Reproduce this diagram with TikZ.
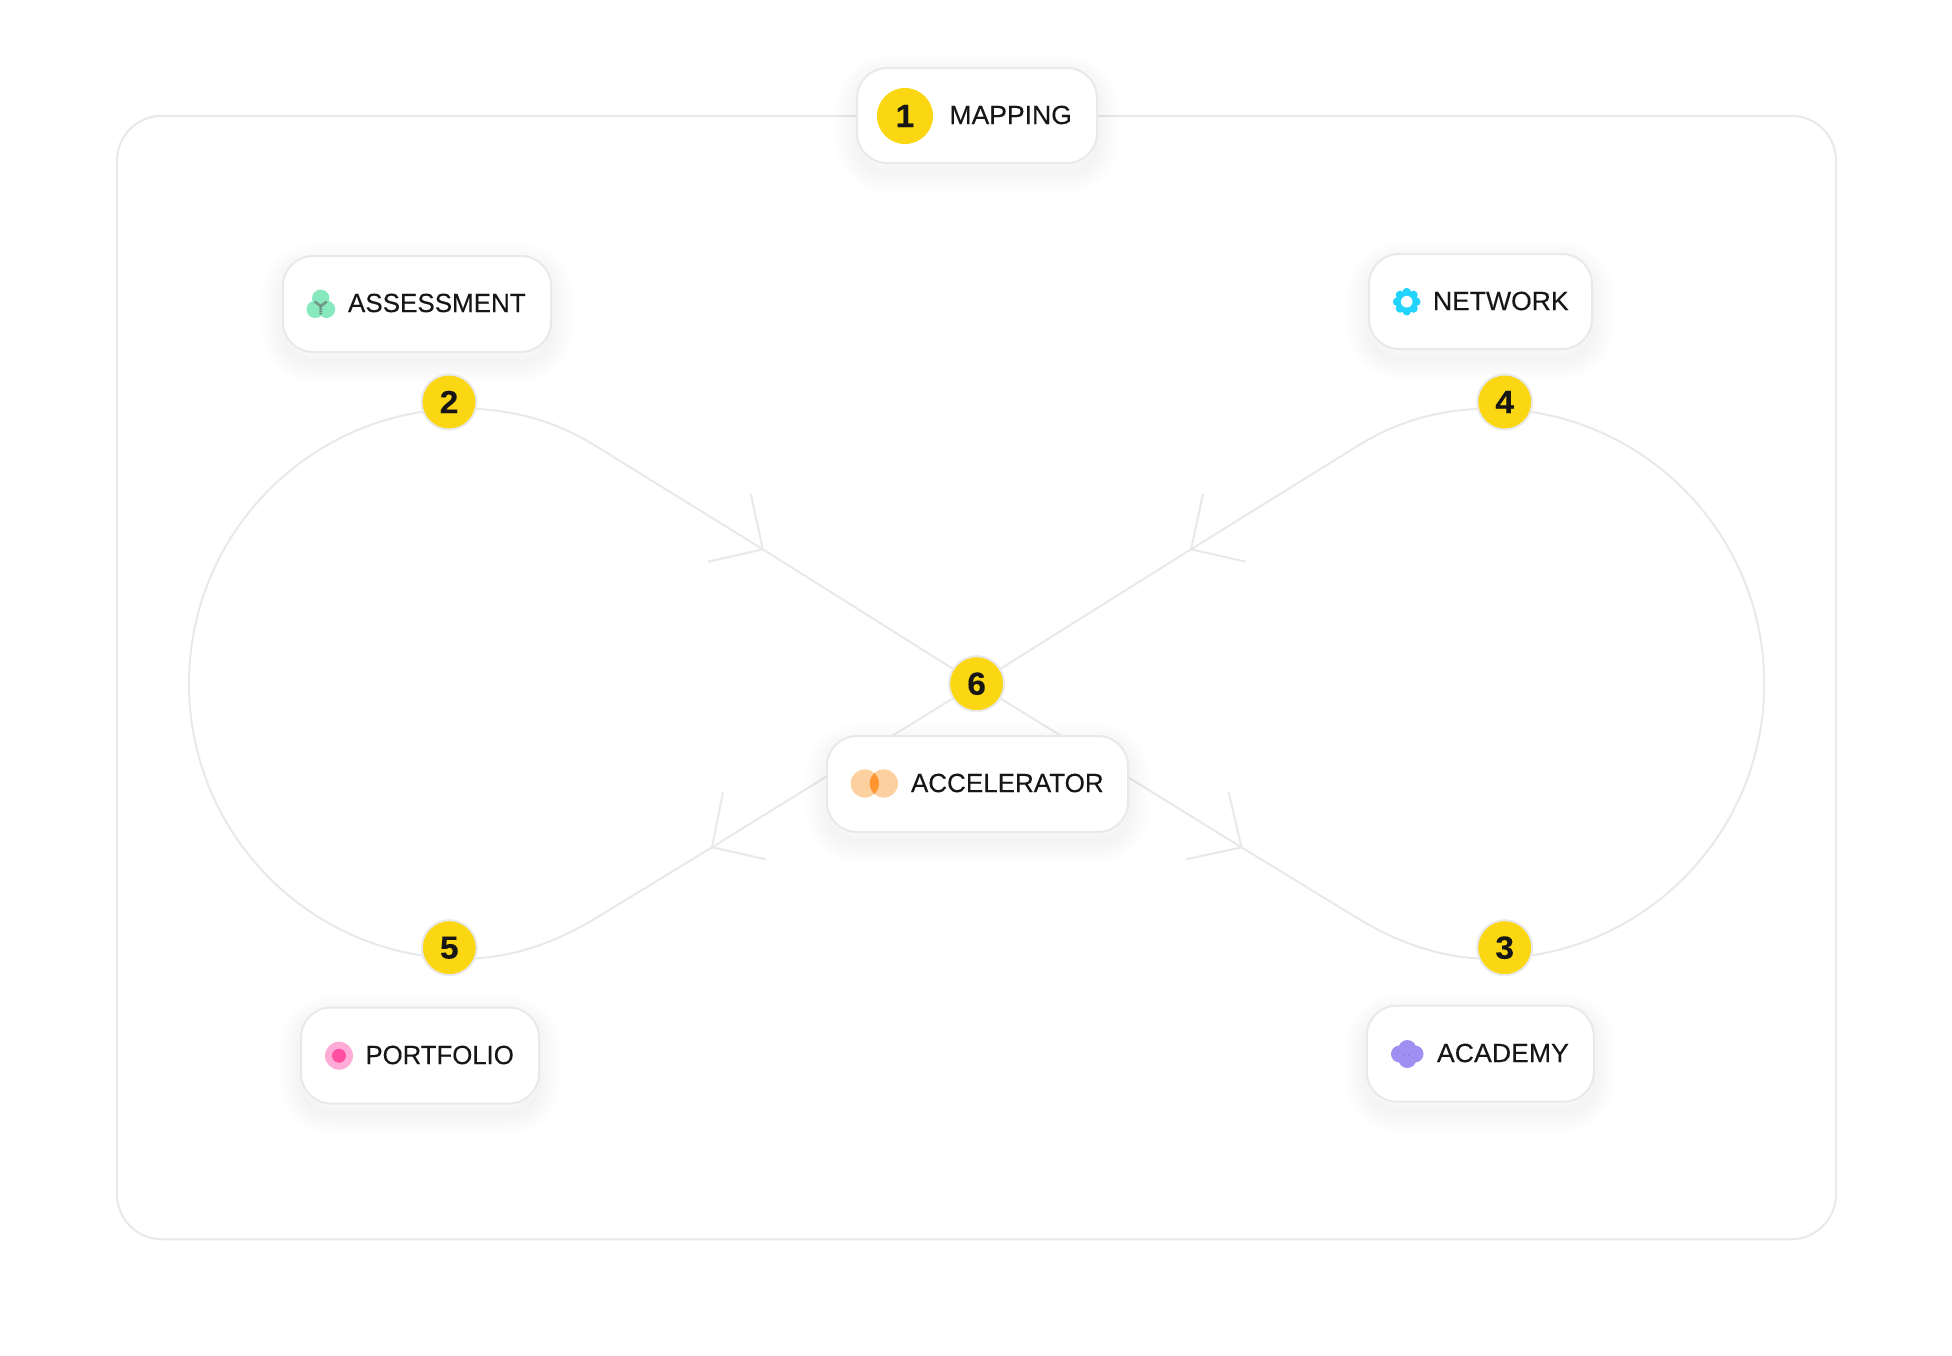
\documentclass[tikz,border=0pt]{standalone}
\usepackage{fontspec}
\setmainfont[FakeBold=0.18]{Liberation Sans}
\newfontfamily\digitfont[BoldFeatures={FakeStretch=1.05,FakeBold=0.2}]{Liberation Sans}
\pgfdeclarelayer{back}
\pgfsetlayers{back,main}
\definecolor{linegray}{HTML}{E9E9E9}
\definecolor{badgeyellow}{HTML}{FBD612}
\definecolor{inkblack}{HTML}{161616}
\definecolor{icongreen}{HTML}{88E8BE}
\definecolor{icongray}{HTML}{6A877C}
\definecolor{iconcyan}{HTML}{22D3FD}
\definecolor{iconpeach}{HTML}{FDD0A0}
\definecolor{iconorange}{HTML}{FF9530}
\definecolor{iconpinkl}{HTML}{FFABD8}
\definecolor{iconpinkd}{HTML}{FF4FA3}
\definecolor{iconviolet}{HTML}{9F8FF2}
\definecolor{icondot}{HTML}{7D6FC4}
\tikzset{
  shadowlayer/.style={preaction={draw=black,draw opacity=0.0045,line width=#1*0.75pt,transform canvas={yshift=-9*0.75pt}}},
  card/.style={shape=rectangle,rounded corners=22.5pt,fill=white,draw=linegray,line width=1.5pt,
    shadowlayer=44,shadowlayer=40,shadowlayer=36,shadowlayer=32,shadowlayer=28,shadowlayer=24,shadowlayer=20,shadowlayer=16,shadowlayer=12,shadowlayer=8,shadowlayer=4},
  cardsize/.style 2 args={minimum width=#1*0.75pt,minimum height=#2*0.75pt,inner sep=0pt,outer sep=0pt},
  cardtext/.style={anchor=west,inner sep=0pt,outer sep=0pt,text=inkblack,font=\fontsize{19.7pt}{22pt}\selectfont},
  badge/.style={shape=circle,fill=badgeyellow,draw=linegray,line width=1.5pt,minimum size=55*0.75pt,inner sep=0pt,outer sep=0pt,text=inkblack,font=\fontsize{24pt}{26pt}\digitfont\bfseries},
  link/.style={draw=linegray,line width=1.5pt,line join=miter},
  framebox/.style={shape=rectangle,rounded corners=33.75pt,draw=linegray,line width=1.5pt,inner sep=0pt,outer sep=0pt}
}
\begin{document}
\begin{tikzpicture}[x=0.75pt,y=-0.75pt]
\useasboundingbox (0,0) rectangle (1952,1356);
% path helpers: straight joins and arc ends
\coordinate (jUL) at (595,445.5);
\coordinate (jLL) at (597,917.4);
\coordinate (jUR) at (1358.2,445.5);
\coordinate (jLR) at (1356.2,917.4);
\coordinate (sUL) at (464,408.7);
\coordinate (sUR) at (1489.2,408.7);
\coordinate (aUL) at (762.8,549.3);
\coordinate (aUL1) at (750.8,494);
\coordinate (aUL2) at (708,561.7);
\coordinate (aUR) at (1191,549.3);
\coordinate (aUR1) at (1203,494);
\coordinate (aUR2) at (1245.7,561.7);
\coordinate (aLL) at (712,847.3);
\coordinate (aLL1) at (723,792.3);
\coordinate (aLL2) at (765.8,859.3);
\coordinate (aLR) at (1241.5,847.3);
\coordinate (aLR1) at (1228.7,792.3);
\coordinate (aLR2) at (1186,859.3);
% cards
\node[card,cardsize={240}{95}] (mapping) at (977,115.5) {};
\node[card,cardsize={268}{96}] (assessment) at (417,304) {};
\node[card,cardsize={223}{95}] (network) at (1480.5,301.5) {};
\node[card,cardsize={301}{96}] (accelerator) at (977.5,784) {};
\node[card,cardsize={238}{96}] (portfolio) at (420,1055.5) {};
\node[card,cardsize={227}{96}] (academy) at (1480.3,1053.7) {};
% badges
\node[badge,draw=none,minimum size=56*0.75pt] (n1) at (905,116) {1};
\node[badge] (n2) at (449,402) {2};
\node[badge] (n3) at (1504.7,947.7) {3};
\node[badge] (n4) at (1504.7,402) {4};
\node[badge] (n5) at (449.3,947.7) {5};
\node[badge] (n6) at (976.6,683.7) {6};
% labels
\node[cardtext] (lmapping) at (949.5,115) {\scalebox{1.01}[1]{MAPPING}};
\node[cardtext] (lassessment) at (348,303) {\scalebox{0.99}[1]{ASSESSMENT}};
\node[cardtext] (lnetwork) at (1433,301) {\scalebox{1.01}[1]{NETWORK}};
\node[cardtext] (laccelerator) at (911,783) {\scalebox{0.99}[1]{ACCELERATOR}};
\node[cardtext] (lportfolio) at (365.5,1055) {\scalebox{0.98}[1]{PORTFOLIO}};
\node[cardtext] (lacademy) at (1437,1053) {\scalebox{1.015}[1]{ACADEMY}};
% icon assessment
\fill[icongreen] (320.7,298.3) circle (8.7);
\fill[icongreen] (315.2,309.3) circle (8.7);
\fill[icongreen] (326.5,309.3) circle (8.7);
\draw[icongray,line width=2pt,dash pattern=on 1.2pt off 0.5pt] (314.7,301.7) -- (320.7,306) -- (326.7,301.7) (320.7,306) -- (320.7,315);
% icon network
\foreach \a in {0,45,...,315} \fill[iconcyan] (1406.7,301.7) ++(\a:9.4) circle (4.4);
\fill[iconcyan] (1406.7,301.7) circle (10);
\fill[white] (1406.7,301.7) circle (5.8);
% icon accelerator
\fill[iconpeach] (864.85,783.5) circle (14.15);
\fill[iconpeach] (883.85,783.5) circle (14.15);
\begin{scope}
\clip (864.85,783.5) circle (14.15);
\fill[iconorange] (883.85,783.5) circle (14.15);
\end{scope}
% icon portfolio
\fill[iconpinkl] (339,1055.7) circle (14);
\fill[iconpinkd] (339,1055.7) circle (7);
% icon academy
\fill[iconviolet] (1399.5,1054) circle (8.5);
\fill[iconviolet] (1415,1054) circle (8.5);
\fill[iconviolet] (1407.3,1049) circle (9);
\fill[iconviolet] (1407.3,1059) circle (9);
\fill[icondot] (1404.5,1055.3) circle (0.6);
\fill[icondot] (1408.7,1055.3) circle (0.6);
% connectors and frame, behind everything
\begin{pgfonlayer}{back}
\fill[white] (0,0) rectangle (1952,1356);
\node[framebox,cardsize={1719}{1123.5}] (frame) at (976.5,677.5) {};
\draw[link] (n6.center) -- (aUL) -- (jUL) .. controls (554.7,420.6) and (511,408.7) .. (sUL)
  arc[start angle=-90,end angle=-270,radius=275]
  .. controls (507.5,958.7) and (551.9,944.9) .. (jLL) -- (aLL) -- (n6.center);
\draw[link] (n6.center) -- (aUR) -- (jUR) .. controls (1398.5,420.6) and (1442.2,408.7) .. (sUR)
  arc[start angle=-90,end angle=90,radius=275]
  .. controls (1445.7,958.7) and (1401.3,944.9) .. (jLR) -- (aLR) -- (n6.center);
\draw[link] (aUL1) -- (aUL) -- (aUL2);
\draw[link] (aUR1) -- (aUR) -- (aUR2);
\draw[link] (aLL1) -- (aLL) -- (aLL2);
\draw[link] (aLR1) -- (aLR) -- (aLR2);
\end{pgfonlayer}
\end{tikzpicture}
\end{document}
